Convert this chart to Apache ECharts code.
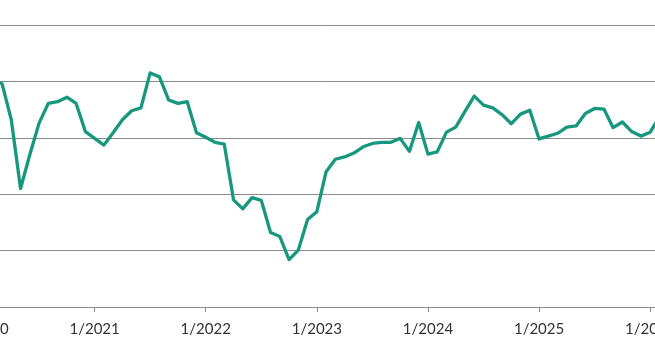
<!DOCTYPE html>
<html>
<head>
<meta charset="utf-8">
<script src="https://cdn.jsdelivr.net/npm/echarts@6/dist/echarts.min.js"></script>
<style>
html,body{margin:0;padding:0;background:#fff;}
#c{width:655px;height:364px;}
</style>
</head>
<body>
<div id="c"></div>
<script>
// Monthly observations, Jan 2020 .. Feb 2026
const startYear = 2020;
const values = [
  40.3, 40.3, 39.6, 33.2, 21.0, 27.0, 32.6, 36.1, 36.4, 37.2, 36.1, 31.1,
  29.9, 28.7, 30.9, 33.2, 34.8, 35.3, 41.5, 40.8, 36.7, 36.1, 36.4, 30.9,
  30.1, 29.2, 28.9, 19.0, 17.4, 19.4, 18.9, 13.2, 12.5, 8.4, 10.1, 15.5,
  16.9, 24.0, 26.2, 26.6, 27.3, 28.4, 29.0, 29.2, 29.2, 29.9, 27.6, 32.7,
  27.1, 27.5, 31.0, 31.9, 34.7, 37.4, 35.8, 35.3, 34.1, 32.5, 34.2, 34.9,
  29.8, 30.3, 30.8, 31.9, 32.1, 34.3, 35.2, 35.1, 31.8, 32.8, 31.1, 30.3,
  31.0, 33.7
];
const yTicks = [0, 10, 20, 30, 40, 50];

const data = values.map((v, i) => [i, v]);

const chart = echarts.init(document.getElementById('c'), null, {renderer: 'canvas'});
chart.setOption({
  animation: false,
  backgroundColor: '#ffffff',
  grid: { left: -127.6, right: -106.3, top: 25, bottom: 57, containLabel: false, outerBoundsMode: 'none' },
  xAxis: {
    type: 'value',
    min: -12, max: 84, interval: 12,
    axisLine: { show: true, lineStyle: { color: '#8a8a8a', width: 1 } },
    axisTick: { show: true, length: 5, lineStyle: { color: '#8a8a8a', width: 1 } },
    splitLine: { show: false },
    axisLabel: {
      margin: 15,
      color: '#333333',
      fontFamily: 'Lato',
      fontSize: 15,
      formatter: v => '1/' + (startYear + Math.round(v / 12))
    }
  },
  yAxis: {
    type: 'value',
    min: yTicks[0], max: yTicks[yTicks.length - 1], interval: 10,
    axisLine: { show: false },
    axisTick: { show: false },
    axisLabel: { show: false },
    splitLine: { show: true, lineStyle: { color: '#8a8a8a', width: 1 } }
  },
  series: [{
    type: 'line',
    data: data,
    showSymbol: false,
    smooth: false,
    clip: true,
    lineStyle: { color: '#17977e', width: 3.3, join: 'round' },
    itemStyle: { color: '#17977e' }
  }]
});
</script>
</body>
</html>
